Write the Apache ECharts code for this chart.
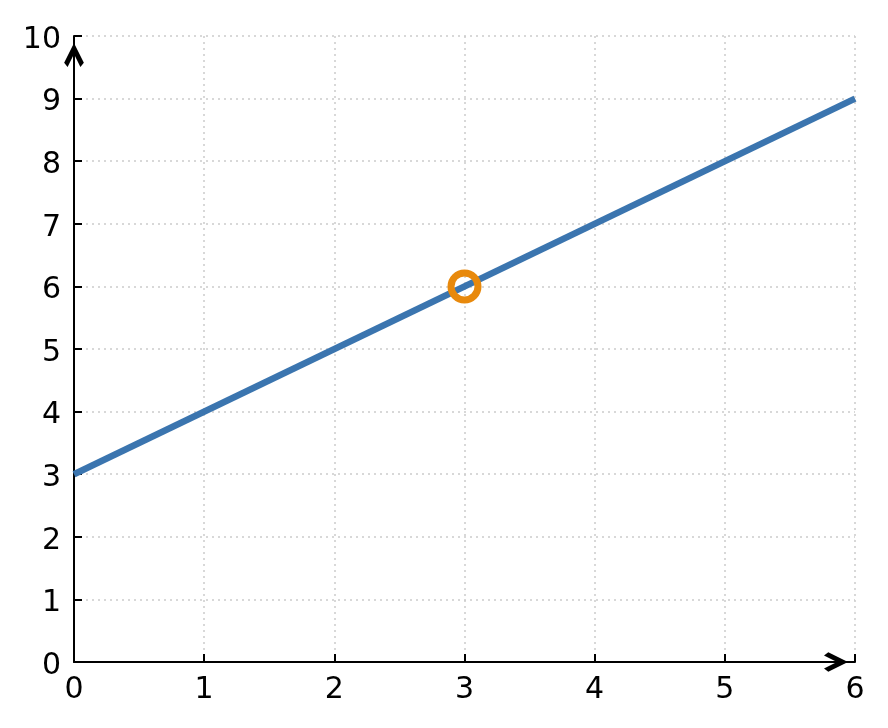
<!DOCTYPE html>
<html><head><meta charset="utf-8">
<script src="https://cdn.jsdelivr.net/npm/echarts@6/dist/echarts.min.js"></script>
<style>html,body{margin:0;padding:0;background:#fff}#c{width:888px;height:728px}</style>
</head><body><div id="c"></div>
<script>
const lineX = [0, 6];
const lineY = [3, 9];
const pointX = [3];
const pointY = [6];
const xTicks = [0, 1, 2, 3, 4, 5, 6];
const yTicks = [0, 1, 2, 3, 4, 5, 6, 7, 8, 9, 10];

const chevron = 'path://M7,0 L15,16 L12.2,19.5 L7,9 L1.8,19.5 L-1,16 Z';
const font = '"DejaVu Sans", sans-serif';

const chart = echarts.init(document.getElementById('c'), null, {renderer: 'canvas'});
chart.setOption({
  animation: false,
  backgroundColor: '#fff',
  grid: {left: 74, right: 33, top: 36, bottom: 66, containLabel: false},
  xAxis: {
    type: 'value', min: 0, max: 6, interval: 1,
    axisLine: {show: true, lineStyle: {color: '#000', width: 2},
      symbol: ['none', chevron], symbolSize: [20, 24], symbolOffset: [0, -19]},
    axisTick: {show: true, inside: true, length: 8, lineStyle: {color: '#000', width: 2}},
    axisLabel: {color: '#000', fontSize: 30, fontFamily: font, margin: 13,
      formatter: v => xTicks.includes(v) ? String(v) : ''},
    splitLine: {show: true, lineStyle: {color: '#cccccc', width: 1.5, type: [2, 4]}}
  },
  yAxis: {
    type: 'value', min: 0, max: 10, interval: 1,
    axisLine: {show: true, lineStyle: {color: '#000', width: 2},
      symbol: ['none', chevron], symbolSize: [20, 24], symbolOffset: [0, -19]},
    axisTick: {show: true, inside: true, length: 8, lineStyle: {color: '#000', width: 2}},
    axisLabel: {color: '#000', fontSize: 30, fontFamily: font, margin: 13,
      formatter: v => yTicks.includes(v) ? '{a|' + v + '}' : '',
      rich: {a: {fontSize: 30, fontFamily: font, color: '#000', padding: [8, 0, 0, 0]}}},
    splitLine: {show: true, lineStyle: {color: '#cccccc', width: 1.5, type: [2, 4]}}
  },
  series: [
    {
      type: 'line',
      data: lineX.map((x, i) => [x, lineY[i]]),
      showSymbol: false,
      lineStyle: {color: '#3b75af', width: 6.5},
      z: 2
    },
    {
      type: 'scatter',
      data: pointX.map((x, i) => [x, pointY[i]]),
      symbol: 'circle',
      symbolSize: 27,
      itemStyle: {color: 'rgba(0,0,0,0)', borderColor: '#e8890c', borderWidth: 7, opacity: 1},
      z: 3
    }
  ]
});
</script></body></html>
